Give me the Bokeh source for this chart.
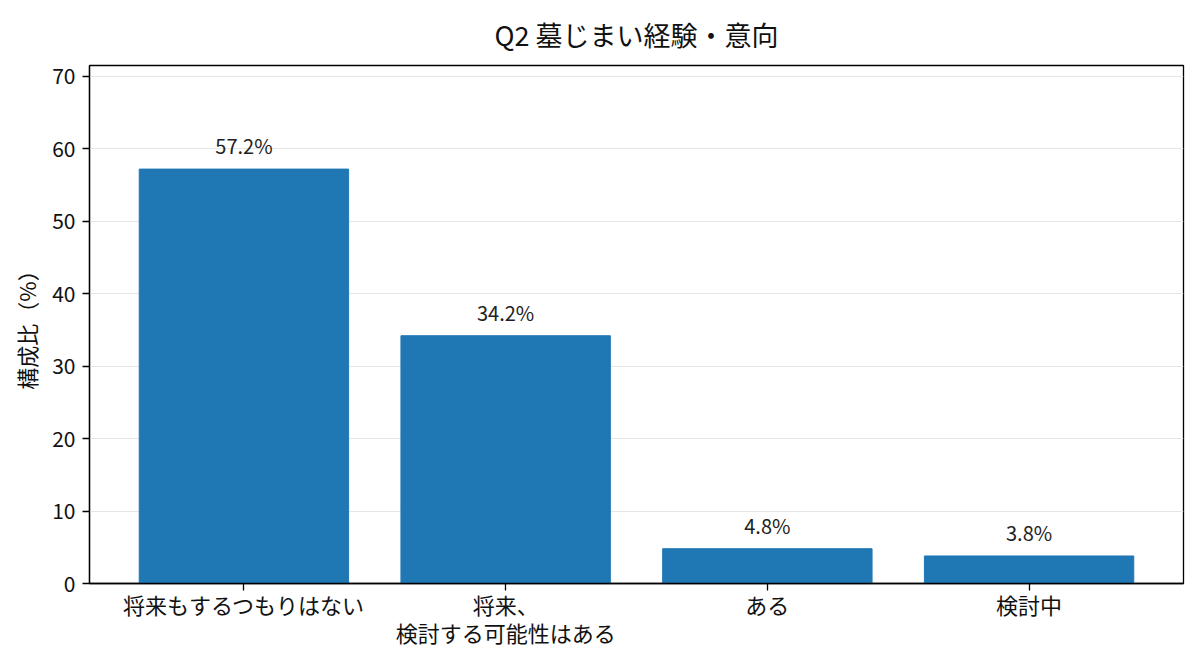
from bokeh.plotting import figure
from bokeh.models import ColumnDataSource, FixedTicker, Range1d
from bokeh.core.properties import value
from bokeh.embed import file_html
from bokeh.resources import INLINE

categories = ["将来もするつもりはない", "将来、\n検討する可能性はある", "ある", "検討中"]
shares = [57.2, 34.2, 4.8, 3.8]
y_ticks = [0, 10, 20, 30, 40, 50, 60, 70]

FONT = "Noto Sans CJK JP"

xs = list(range(len(categories)))
src = ColumnDataSource(data=dict(
    x=xs,
    top=shares,
    label=[f"{v:.1f}%" for v in shares],
))

p = figure(
    frame_width=1094, frame_height=518,
    x_range=Range1d(-0.59, len(categories) - 1 + 0.59),
    y_range=Range1d(0, max(shares) * 1.25),
    output_backend="svg", toolbar_location=None,
    title="Q2 墓じまい経験・意向",
    min_border_left=89, min_border_right=9, min_border_top=65, min_border_bottom=70,
)

p.vbar(x="x", top="top", width=0.8, source=src, color="#1f77b4")
p.text(x="x", y="top", text="label", source=src,
       text_align="center", text_baseline="bottom", y_offset=-9,
       text_font=value(FONT), text_font_size="20px", text_color="#222222")

p.title.align = "center"
p.title.text_font = FONT
p.title.text_font_size = "27px"
p.title.text_font_style = "normal"
p.title.text_color = "#111111"
p.title.offset = 0
p.title.standoff = 24

p.outline_line_color = "black"
p.outline_line_width = 1.3
p.outline_line_alpha = 1

p.xgrid.grid_line_color = None
p.ygrid.grid_line_color = "#e6e6e6"
p.ygrid.ticker = FixedTicker(ticks=y_ticks)

p.xaxis.ticker = FixedTicker(ticks=xs)
p.xaxis.major_label_overrides = {i: c for i, c in enumerate(categories)}
p.yaxis.ticker = FixedTicker(ticks=y_ticks)

for ax in (p.xaxis[0], p.yaxis[0]):
    ax.major_label_text_font = FONT
    ax.major_label_text_color = "#111111"
    ax.major_tick_in = 0
    ax.major_tick_out = 7
    ax.minor_tick_line_color = None
    ax.axis_line_color = "black"
    ax.axis_line_width = 1.3
    ax.major_tick_line_color = "black"
    ax.major_tick_line_width = 1.3
    ax.major_label_standoff = 7

p.yaxis.major_label_text_font_size = "21px"
p.xaxis.major_label_text_font_size = "22px"
p.xaxis.major_label_text_line_height = 0.9
p.xaxis.major_label_standoff = -3

p.yaxis.axis_label = "構成比（%）"
p.yaxis.axis_label_text_font = FONT
p.yaxis.axis_label_text_font_size = "22px"
p.yaxis.axis_label_text_font_style = "normal"
p.yaxis.axis_label_text_color = "#111111"
p.yaxis.axis_label_standoff = 7

open("out.html", "w").write(file_html(p, INLINE))
